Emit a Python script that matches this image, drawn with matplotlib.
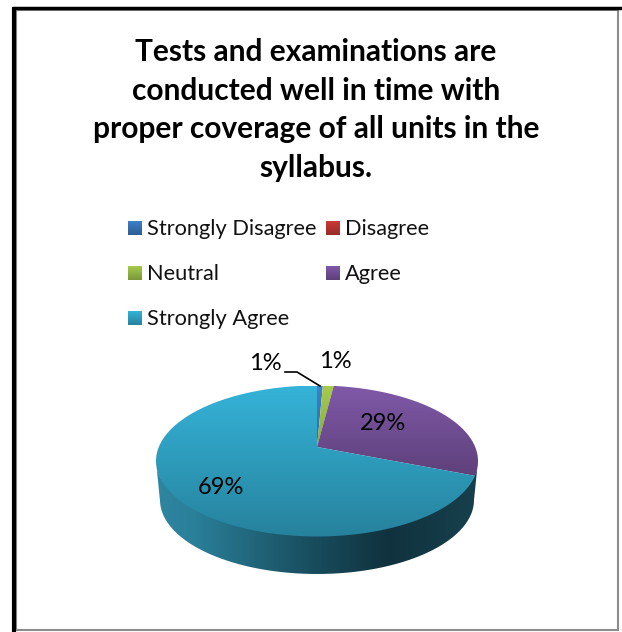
import numpy as np
import matplotlib
matplotlib.use("Agg")
import matplotlib.pyplot as plt
from matplotlib.colors import LinearSegmentedColormap
from matplotlib.patches import PathPatch, Rectangle
from matplotlib.path import Path

plt.rcParams['font.family'] = ['Lato', 'DejaVu Sans']

title = "Tests and examinations are\nconducted well in time with\nproper coverage of all units in the\nsyllabus."
categories = ["Strongly Disagree", "Disagree", "Neutral", "Agree", "Strongly Agree"]
values = [0.7, 0, 1.3, 29, 69]
light = ["#3f80c8", "#cc3a36", "#a4cb4c", "#8059a8", "#35b3d8"]
dark = ["#2c5d94", "#962b28", "#7a9838", "#5c3f78", "#26829d"]

# pixel geometry, the pie is seen in perspective
cx, cy, rx, ry = 317, 461, 161, 75.5
bcy, brx, bry = 500, 157, 74
d = 14 / ry


def top_xy(ang):
    # ang = clockwise from 12 o'clock, degrees
    t = np.radians(ang)
    u, v = np.sin(t), np.cos(t)
    den = 1 + d * v
    return cx + rx * u * np.sqrt(1 - d**2) / den, cy - ry * (v + d) / den


def grad(ax, patch, c1, c2, ext, horizontal=False):
    cm = LinearSegmentedColormap.from_list("g", [c1, c2] if isinstance(c1, str) else c1)
    g = np.linspace(0, 1, 256)
    g = g[None, :] if horizontal else g[:, None]
    ax.add_patch(patch)
    im = ax.imshow(g, cmap=cm, extent=ext, aspect="auto", zorder=patch.get_zorder(), origin="upper")
    im.set_clip_path(patch)


fig = plt.figure(figsize=(6.22, 6.32), dpi=100)
ax = fig.add_axes([0, 0, 1, 1])
ax.axis("off")

# frame
ax.add_patch(Rectangle((16, 10), 602, 620, fc="white", ec="#8c8c8c", lw=1.5))
ax.plot([14, 14], [7, 632], color="black", lw=3, solid_capstyle="butt")
ax.plot([12, 622], [7.5, 7.5], color="black", lw=2.5, solid_capstyle="butt")

ax.text(316, 110, title, ha="center", va="center", fontsize=21.5, fontweight="bold",
        linespacing=1.45, color="black")

# legend
leg_x = [128, 326, 128, 326, 128]
leg_y = [228, 228, 273, 273, 318]
for i, name in enumerate(categories):
    p = Rectangle((leg_x[i], leg_y[i] - 7), 14, 14, fc="none", ec="none")
    grad(ax, p, light[i], dark[i], [leg_x[i], leg_x[i] + 14, leg_y[i] + 7, leg_y[i] - 7])
    ax.text(leg_x[i] + 19, leg_y[i] + 1, name, va="center", ha="left", fontsize=15.7, color="#111111")

# side of the pie, upper edge tucked under the top face
ts = np.radians(np.linspace(90, 270, 200))
tx = cx + rx * np.sin(ts)
ty = cy - (ry - 4) * np.cos(ts)
bx = cx + brx * np.sin(ts)
by = bcy - bry * np.cos(ts)
verts = np.vstack([np.c_[tx, ty], np.c_[bx, by][::-1]])
side = PathPatch(Path(np.vstack([verts, verts[0]])), fc="none", ec="none", zorder=2)
side_colors = [(0, "#2f86a0"), (0.12, "#2a7f99"), (0.45, "#1a5163"), (0.72, "#10323e"), (1, "#17404d")]
grad(ax, side, side_colors, None, [156, 478, 580, 380], horizontal=True)

# top of the pie, slices go clockwise from 12 o'clock
edges = np.concatenate([[0], np.cumsum(values)]) / sum(values) * 360
for i, v in enumerate(values):
    if v == 0:
        continue
    a = np.linspace(edges[i], edges[i + 1], 200)
    x, y = top_xy(a)
    ax0, ay0 = cx, cy - ry * d
    pts = np.vstack([[ax0, ay0], np.c_[x, y], [ax0, ay0]])
    p = PathPatch(Path(pts), fc="none", ec="none", zorder=3)
    if i == 4:
        ext = [150, 485, 537, 386]
    else:
        ext = [150, 485, 480, 386]
    grad(ax, p, light[i], dark[i], ext)

# percent labels
lab_x = {0: 265, 2: 335, 3: 383, 4: 221}
lab_y = {0: 363, 2: 362, 3: 423, 4: 487}
for i in lab_x:
    ax.text(lab_x[i], lab_y[i], f"{values[i]:.0f}%", ha="center", va="center",
            fontsize=17, color="black", zorder=5)
ax.plot([285, 297, 320], [372, 372, 386], color="black", lw=1.2, zorder=5)

ax.set_xlim(0, 622)
ax.set_ylim(632, 0)
fig.savefig("out.png", dpi=100)
